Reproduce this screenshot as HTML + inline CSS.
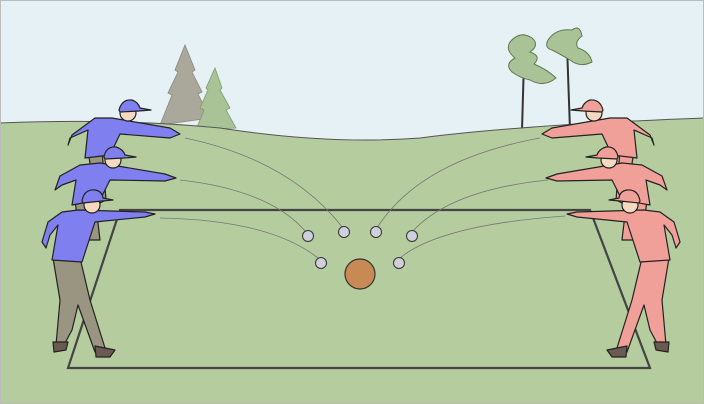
<!DOCTYPE html>
<html><head><style>body{margin:0}svg{display:block}</style></head><body>
<svg width="704" height="404" viewBox="0 0 704 404" xmlns="http://www.w3.org/2000/svg">
<defs>
<g id="pl" stroke="#222" stroke-width="1.2" stroke-linejoin="round">
  <!-- back player -->
  <path d="M88 150 L102 150 L106 200 L96 205 Z" fill="#9a9580"/>
  <path d="M112 118 L170 128 L180 134 L170 138 L120 134 L110 155 L85 158 L88 130 L70 138 L68 145 L72 135 L95 118 Z" fill="#7f7ff0"/>
  <circle cx="128" cy="113" r="8" fill="#f5d9c0"/>
  <path d="M119 110 Q122 99 132 100 Q138 102 140 108 L151 110 L139 111 L120 112 Z" fill="#7f7ff0"/>
  <!-- middle player -->
  <path d="M75 200 L95 198 L100 240 L80 240 Z" fill="#9a9580"/>
  <path d="M100 163 L165 174 L176 178 L165 181 L110 180 L100 200 L72 205 L76 180 L62 185 L55 190 L60 176 L80 165 Z" fill="#7f7ff0"/>
  <circle cx="113" cy="160" r="8" fill="#f5d9c0"/>
  <path d="M104 157 Q106 146 116 147 Q123 149 125 155 L136 157 L124 158 L105 159 Z" fill="#7f7ff0"/>
  <!-- front player -->
  <path d="M53 258 L80 258 L90 300 L105 348 L95 352 L78 305 L72 330 L64 345 L56 345 L60 300 Z" fill="#9a9580"/>
  <path d="M95 346 L115 350 L110 357 L96 357 Z" fill="#6a5a50"/>
  <path d="M53 342 L68 342 L66 350 L54 352 Z" fill="#6a5a50"/>
  <path d="M78 210 L145 212 L155 214 L145 217 L95 222 L82 262 L52 260 L58 225 L50 235 L46 248 L42 242 L48 222 L62 212 Z" fill="#7f7ff0"/>
  <circle cx="92" cy="205" r="8" fill="#f5d9c0"/>
  <path d="M82 201 Q84 189 95 190 Q102 191 103 198 L113 200 L102 201 L83 203 Z" fill="#7f7ff0"/>
</g>
<g id="plr" stroke="#222" stroke-width="1.2" stroke-linejoin="round">
  <path d="M88 150 L102 150 L106 200 L96 205 Z" fill="#f0a098"/>
  <path d="M112 118 L170 128 L180 134 L170 138 L120 134 L110 155 L85 158 L88 130 L70 138 L68 145 L72 135 L95 118 Z" fill="#f0a098"/>
  <circle cx="128" cy="113" r="8" fill="#f5d9c0"/>
  <path d="M119 110 Q122 99 132 100 Q138 102 140 108 L151 110 L139 111 L120 112 Z" fill="#f0a098"/>
  <path d="M75 200 L95 198 L100 240 L80 240 Z" fill="#f0a098"/>
  <path d="M100 163 L165 174 L176 178 L165 181 L110 180 L100 200 L72 205 L76 180 L62 185 L55 190 L60 176 L80 165 Z" fill="#f0a098"/>
  <circle cx="113" cy="160" r="8" fill="#f5d9c0"/>
  <path d="M104 157 Q106 146 116 147 Q123 149 125 155 L136 157 L124 158 L105 159 Z" fill="#f0a098"/>
  <path d="M53 258 L80 258 L90 300 L105 348 L95 352 L78 305 L72 330 L64 345 L56 345 L60 300 Z" fill="#f0a098"/>
  <path d="M95 346 L115 350 L110 357 L96 357 Z" fill="#6a5a50"/>
  <path d="M53 342 L68 342 L66 350 L54 352 Z" fill="#6a5a50"/>
  <path d="M78 210 L145 212 L155 214 L145 217 L95 222 L82 262 L52 260 L58 225 L50 235 L46 248 L42 242 L48 222 L62 212 Z" fill="#f0a098"/>
  <circle cx="92" cy="205" r="8" fill="#f5d9c0"/>
  <path d="M82 201 Q84 189 95 190 Q102 191 103 198 L113 200 L102 201 L83 203 Z" fill="#f0a098"/>
</g>
</defs>
<rect width="704" height="404" fill="#e6f1f6"/>
<!-- trees -->
<path d="M185 45 L195 70 L192 72 L202 92 L198 94 L210 118 L160 125 L172 95 L168 93 L178 72 L175 70 Z" fill="#aaa79b" stroke="#8a877c" stroke-width="0.8"/>
<path d="M215 68 L222 88 L220 90 L230 108 L226 110 L236 128 L196 130 L204 110 L200 108 L208 90 L206 88 Z" fill="#a9c396" stroke="#7f9a6e" stroke-width="0.8"/>
<path d="M522 130 L524 60 M570 130 L567 45" stroke="#333" stroke-width="2"/>
<g fill="#a9c396" stroke="#5f7a50" stroke-width="1">
<path d="M510 42 Q520 30 532 38 Q540 45 530 52 Q542 56 534 64 Q548 70 556 78 Q544 88 530 80 Q520 78 512 72 Q504 64 515 58 Q505 50 510 42Z"/>
<path d="M548 40 Q556 28 572 30 Q580 24 582 36 Q574 42 578 48 Q590 52 592 62 Q580 68 570 60 Q560 54 552 50 Q544 48 548 40Z"/>
</g>
<!-- field -->
<path d="M0 123 Q120 118 220 128 Q330 145 420 138 Q520 125 704 118 L704 404 L0 404 Z" fill="#b5cc9f"/>
<path d="M0 123 Q120 118 220 128 Q330 145 420 138 Q520 125 704 118" fill="none" stroke="#555" stroke-width="1"/>
<path d="M120 210 L590 210 L650 368 L68 368 Z" fill="none" stroke="#444" stroke-width="2.2"/>
<!-- trajectories -->
<g fill="none" stroke="#777" stroke-width="0.8">
<path d="M185 138 Q290 160 343 228"/>
<path d="M180 180 Q270 190 306 232"/>
<path d="M160 218 Q270 220 318 258"/>
<path d="M540 138 Q420 160 377 228"/>
<path d="M548 180 Q450 190 412 232"/>
<path d="M565 216 Q440 225 400 258"/>
</g>
<g fill="#d0d0dc" stroke="#333" stroke-width="1">
<circle cx="308" cy="236" r="5.5"/><circle cx="344" cy="232" r="5.5"/><circle cx="376" cy="232" r="5.5"/><circle cx="412" cy="236" r="5.5"/><circle cx="321" cy="263" r="5.5"/><circle cx="399" cy="263" r="5.5"/>
</g>
<circle cx="360" cy="274" r="15" fill="#c88a55" stroke="#333" stroke-width="1.2"/>
<use href="#pl"/>
<g transform="translate(722,0) scale(-1,1)"><use href="#plr"/></g>
<rect x="0.5" y="0.5" width="703" height="403" fill="none" stroke="#bbb"/>
</svg>
</body></html>
